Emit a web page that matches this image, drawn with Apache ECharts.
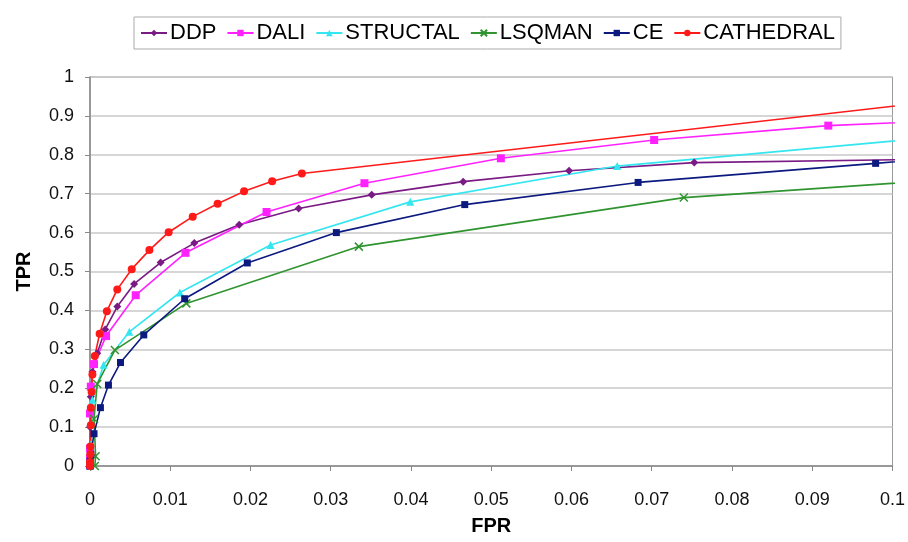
<!DOCTYPE html>
<html>
<head>
<meta charset="utf-8">
<script src="https://cdn.jsdelivr.net/npm/echarts@6/dist/echarts.min.js"></script>
<style>html,body{margin:0;padding:0;background:#fff}#c{width:908px;height:542px}</style>
</head>
<body>
<div id="c"></div>
<script>
var seriesNames = ['DDP', 'DALI', 'STRUCTAL', 'LSQMAN', 'CE', 'CATHEDRAL'];
var xTicks = [0, 0.01, 0.02, 0.03, 0.04, 0.05, 0.06, 0.07, 0.08, 0.09, 0.1];
var yTicks = [0, 0.1, 0.2, 0.3, 0.4, 0.5, 0.6, 0.7, 0.8, 0.9, 1];

var ddp = [[0,0],[0,0.03],[0,0.1],[0.0001,0.178],[0.0003,0.242],[0.0009,0.29],[0.0019,0.351],[0.0034,0.41],[0.0055,0.468],[0.0088,0.523],[0.013,0.573],[0.0186,0.62],[0.026,0.662],[0.0351,0.697],[0.0465,0.731],[0.0597,0.759],[0.0753,0.78],[0.11,0.79]];
var dali = [[0,0],[0,0.02],[0,0.045],[0,0.135],[0.0001,0.204],[0.0005,0.262],[0.002,0.334],[0.0057,0.439],[0.0119,0.548],[0.022,0.653],[0.0342,0.727],[0.0512,0.791],[0.0703,0.838],[0.092,0.875],[0.11,0.891]];
var structal = [[0,0],[0.0001,0.055],[0.0003,0.17],[0.0017,0.26],[0.0049,0.345],[0.0112,0.446],[0.0225,0.568],[0.0399,0.679],[0.0657,0.771],[0.11,0.854]];
var lsqman = [[0.0006,0],[0.0007,0.025],[0.0005,0.121],[0.0009,0.211],[0.0031,0.298],[0.012,0.418],[0.0335,0.564],[0.074,0.69],[0.11,0.741]];
var ce = [[0,0],[0,0.012],[0.0001,0.03],[0.0005,0.083],[0.0013,0.15],[0.0023,0.208],[0.0038,0.266],[0.0067,0.337],[0.0118,0.43],[0.0196,0.522],[0.0307,0.6],[0.0467,0.672],[0.0683,0.729],[0.0979,0.778],[0.11,0.798]];
var cathedral = [[0,0],[0,0.01],[0.00005,0.03],[0.00005,0.05],[0.0001,0.105],[0.0001,0.15],[0.0002,0.19],[0.0003,0.235],[0.0006,0.283],[0.0012,0.34],[0.0021,0.398],[0.0034,0.454],[0.0052,0.506],[0.0074,0.555],[0.0098,0.601],[0.0128,0.641],[0.0159,0.674],[0.0192,0.706],[0.0227,0.732],[0.0264,0.752],[0.11,0.948]];

var allData = [ddp, dali, structal, lsqman, ce, cathedral];
var colors = ['#7a1a84', '#ff22ff', '#33e6f0', '#2f942f', '#0c1a80', '#ff1a1a'];
var symbols = ['diamond', 'rect', 'triangle', 'path://M0,0 L10,10 M10,0 L0,10', 'rect', 'circle'];
var sizes = [8, 8, 8, 8, 7, 8];

var chart = echarts.init(document.getElementById('c'), null, {renderer: 'canvas'});
var series = seriesNames.map(function (n, i) {
  return {
    name: n,
    type: 'line',
    data: allData[i],
    symbol: symbols[i],
    symbolSize: sizes[i],
    showAllSymbol: true,
    clip: true,
    animation: false,
    lineStyle: {color: colors[i], width: 1.6},
    itemStyle: {color: colors[i], borderColor: colors[i], borderWidth: i === 3 ? 1.5 : 0}
  };
});

chart.setOption({
  animation: false,
  backgroundColor: '#fff',
  color: colors,
  legend: {
    top: 17,
    left: 134,
    data: seriesNames,
    itemWidth: 26,
    itemHeight: 8,
    itemGap: 10,
    padding: [5, 6, 5, 6],
    borderColor: '#aaa',
    borderWidth: 1,
    textStyle: {fontSize: 22, color: '#000', fontFamily: 'Liberation Sans, Arial, sans-serif', padding: [0, 0, 0, -2]}
  },
  grid: {left: 90, right: 11, top: 77, bottom: 76, show: true, borderColor: '#999', borderWidth: 1},
  xAxis: {
    type: 'value',
    min: xTicks[0],
    max: xTicks[xTicks.length - 1],
    interval: 0.01,
    name: 'FPR',
    nameLocation: 'middle',
    nameGap: 50,
    nameTextStyle: {fontSize: 20, fontWeight: 'bold', color: '#000', fontFamily: 'Liberation Sans, Arial, sans-serif'},
    axisLine: {lineStyle: {color: '#888', width: 1.5}},
    axisTick: {show: true, length: 5, lineStyle: {color: '#888'}},
    axisLabel: {fontSize: 18, color: '#111', margin: 25, fontFamily: 'Liberation Sans, Arial, sans-serif',
      formatter: function (v) { return String(Math.round(v * 100) / 100); }},
    splitLine: {show: false}
  },
  yAxis: {
    type: 'value',
    min: yTicks[0],
    max: yTicks[yTicks.length - 1],
    interval: 0.1,
    name: 'TPR',
    nameLocation: 'middle',
    nameGap: 56,
    nameRotate: 90,
    nameTextStyle: {fontSize: 20, fontWeight: 'bold', color: '#000', fontFamily: 'Liberation Sans, Arial, sans-serif'},
    axisLine: {show: true, lineStyle: {color: '#888', width: 1.5}},
    axisTick: {show: true, length: 5, lineStyle: {color: '#888'}},
    axisLabel: {fontSize: 18, color: '#111', margin: 16, fontFamily: 'Liberation Sans, Arial, sans-serif',
      formatter: function (v) { return String(Math.round(v * 10) / 10); }},
    splitLine: {show: true, lineStyle: {color: '#c8c8c8', width: 1.5}}
  },
  series: series
});
</script>
</body>
</html>
